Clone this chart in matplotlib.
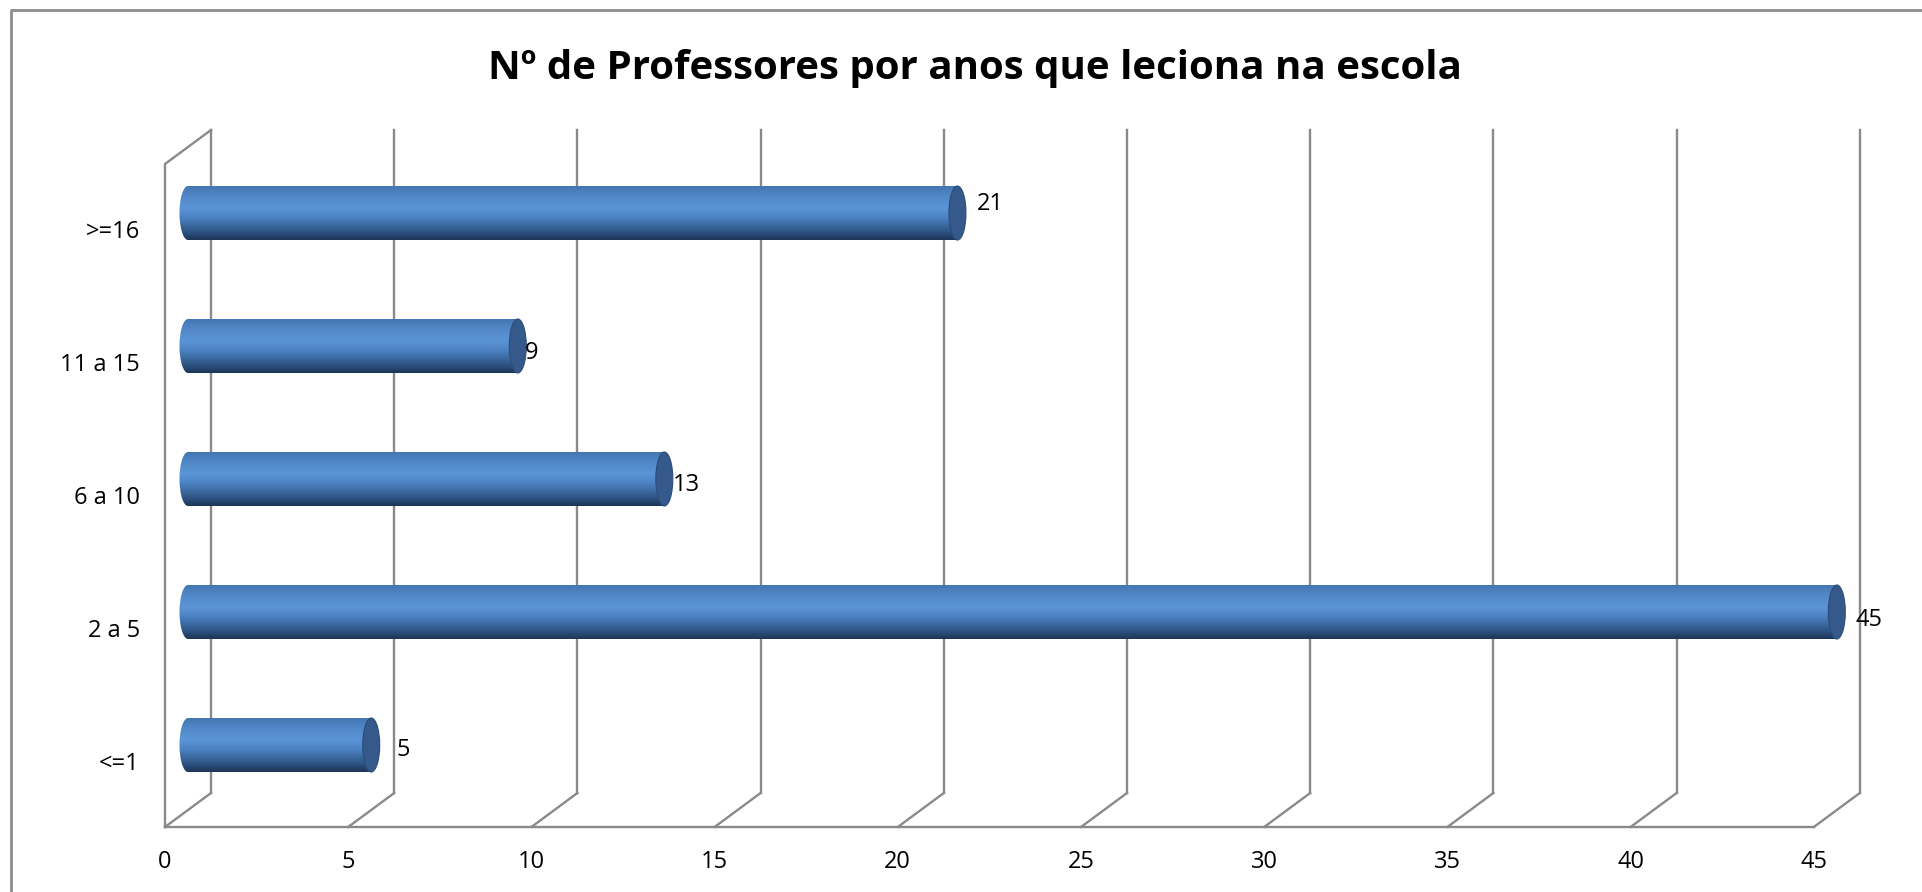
import matplotlib.pyplot as plt
import numpy as np
from matplotlib.patches import Ellipse
from matplotlib.lines import Line2D
from matplotlib.colors import LinearSegmentedColormap

categories = ['<=1', '2 a 5', '6 a 10', '11 a 15', '>=16']
teachers = [5, 45, 13, 9, 21]
x_ticks = [0, 5, 10, 15, 20, 25, 30, 35, 40, 45]
title = 'Nº de Professores por anos que leciona na escola'

# label nudges (pixels) so the numbers sit like the original
label_nudge = [(25, -5), (19, -8), (8, -6), (7, -7), (19, 9)]

W, H = 1922, 892
fig = plt.figure(figsize=(W / 100, H / 100), dpi=100)
ax = fig.add_axes([0, 0, 1, 1])

px_unit = 36.64      # pixels per value unit
x0 = 188             # pixel x of value 0 (mid depth)
row_px = 133         # pixels between categories
y0 = 745             # pixel y (from top) of first category
ax.set_xlim(-x0 / px_unit, (W - x0) / px_unit)
ax.set_ylim((y0 - H) / row_px, y0 / row_px)
ax.axis('off')

# 3d depth offsets
dx = 23 / px_unit
dy = 17 / row_px
y_floor_front = (y0 - 827) / row_px
y_floor_back = y_floor_front + 2 * dy
y_top_back = (y0 - 130) / row_px
y_top_front = y_top_back - 2 * dy

grid_kw = dict(color='#8a8a8a', lw=1.7, zorder=1, solid_capstyle='projecting')
for v in x_ticks:
    ax.plot([v + dx, v + dx], [y_floor_back, y_top_back], **grid_kw)
    ax.plot([v - dx, v + dx], [y_floor_front, y_floor_back], **grid_kw)
ax.plot([-dx, x_ticks[-1] - dx], [y_floor_front, y_floor_front], **grid_kw)
ax.plot([-dx, -dx, dx], [y_floor_front, y_top_front, y_top_back], **grid_kw)

# cylinders
cmap = LinearSegmentedColormap.from_list('cyl', [
    (0.0, '#1d3555'), (0.15, '#2d5383'), (0.42, '#4c82c2'),
    (0.6, '#5b95d8'), (0.85, '#4f85c4'), (1.0, '#4376b1')])
grad = np.linspace(0, 1, 256).reshape(-1, 1)
half_h = 27 / row_px
cap_w = 8.5 / px_unit
font = ['Open Sans', 'DejaVu Sans']

bars = ax.barh(np.arange(len(categories)), teachers, height=2 * half_h,
               color='none', edgecolor='none', zorder=3)
for i, (bar, v) in enumerate(zip(bars, teachers)):
    im = ax.imshow(grad, extent=(-cap_w, v, i - half_h, i + half_h), cmap=cmap,
                   origin='lower', aspect='auto', zorder=3, interpolation='bilinear')
    im.set_clip_path(bar)
    left = Ellipse((0, i), 2 * cap_w, 2 * half_h, facecolor='none', edgecolor='none')
    ax.add_patch(left)
    im2 = ax.imshow(grad, extent=(-cap_w, v, i - half_h, i + half_h), cmap=cmap,
                    origin='lower', aspect='auto', zorder=3, interpolation='bilinear')
    im2.set_clip_path(left)
    ax.add_patch(Ellipse((v, i), 2 * cap_w, 2 * half_h, facecolor='#34598a',
                         edgecolor='#2c4d78', lw=0.8, zorder=4))
    ax.annotate(str(v), (v, i), xytext=label_nudge[i], textcoords='offset pixels',
                ha='left', va='center', fontsize=17, family=font, zorder=5)
    ax.text(-48 / px_unit, i - 19 / row_px, categories[i], ha='right', va='center',
            fontsize=17, family=font)

for v in x_ticks:
    ax.text(v - dx, (y0 - 862) / row_px, str(v), ha='center', va='center',
            fontsize=17, family=font)

ax.set_xlim(-x0 / px_unit, (W - x0) / px_unit)
ax.set_ylim((y0 - H) / row_px, y0 / row_px)

fig.text(975 / W, 1 - 68 / H, title, ha='center', va='center', fontsize=29,
         fontweight='bold', family=font)

# chart area border
fig.add_artist(Line2D([11 / W, 11 / W, 1], [0, 1 - 10 / H, 1 - 10 / H],
                      transform=fig.transFigure, color='#8c8c8c', lw=2))

fig.savefig('out.png', dpi=100)
